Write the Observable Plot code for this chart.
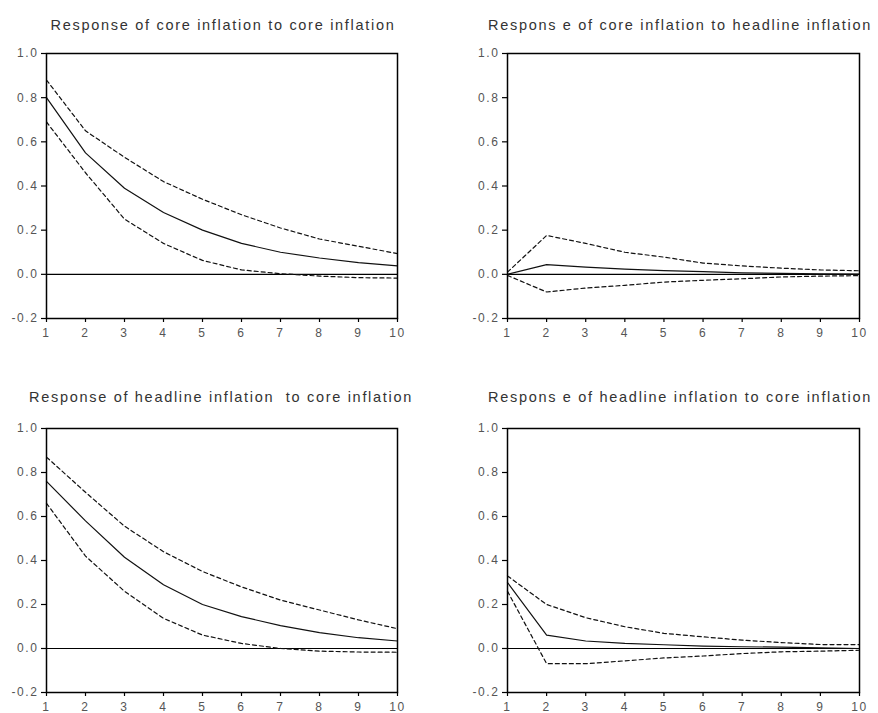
<!DOCTYPE html>
<html>
<head>
<meta charset="utf-8">
<script src="https://cdn.jsdelivr.net/npm/d3@7"></script>
<script src="https://cdn.jsdelivr.net/npm/@observablehq/plot@0.6"></script>
<style>
  html, body { margin: 0; padding: 0; background: #fff; }
  #wrap { position: relative; width: 878px; height: 713px; overflow: hidden; background: #fff; }
  .panel { position: absolute; }
  .ttl { position: absolute; font-family: "Liberation Sans", Arial, sans-serif; font-size: 14.5px; letter-spacing: 1.7px; color: #333; white-space: pre; transform: translate(-50%, -50%); }
  svg.panel text { letter-spacing: 1.6px; }
</style>
</head>
<body>
<div id="wrap"></div>
<script>
// periods (x axis)
const steps = [1, 2, 3, 4, 5, 6, 7, 8, 9, 10];
const xTicks = [1, 2, 3, 4, 5, 6, 7, 8, 9, 10];
const yTicks = [-0.2, 0.0, 0.2, 0.4, 0.6, 0.8, 1.0];

// Response of core inflation to core inflation
const ccResp  = [0.80, 0.55, 0.39, 0.28, 0.20, 0.14, 0.10, 0.074, 0.053, 0.038];
const ccUpper = [0.88, 0.65, 0.53, 0.42, 0.34, 0.27, 0.21, 0.16, 0.127, 0.094];
const ccLower = [0.69, 0.46, 0.25, 0.14, 0.063, 0.02, 0.003, -0.008, -0.015, -0.017];

// Response of core inflation to headline inflation
const chResp  = [0.0, 0.044, 0.033, 0.024, 0.017, 0.012, 0.007, 0.004, 0.002, 0.001];
const chUpper = [0.01, 0.176, 0.14, 0.10, 0.078, 0.051, 0.038, 0.028, 0.02, 0.016];
const chLower = [-0.005, -0.08, -0.062, -0.05, -0.035, -0.027, -0.02, -0.012, -0.008, -0.006];

// Response of headline inflation to core inflation (left)
const hcResp  = [0.76, 0.58, 0.415, 0.29, 0.20, 0.145, 0.104, 0.072, 0.049, 0.034];
const hcUpper = [0.87, 0.71, 0.556, 0.44, 0.35, 0.28, 0.22, 0.175, 0.13, 0.09];
const hcLower = [0.66, 0.42, 0.26, 0.137, 0.061, 0.023, 0.0, -0.012, -0.016, -0.017];

// Response of headline inflation to core inflation (right)
const hhResp  = [0.30, 0.061, 0.034, 0.023, 0.017, 0.011, 0.008, 0.006, 0.003, 0.0];
const hhUpper = [0.33, 0.20, 0.14, 0.099, 0.069, 0.053, 0.038, 0.027, 0.018, 0.018];
const hhLower = [0.26, -0.069, -0.069, -0.056, -0.043, -0.034, -0.023, -0.015, -0.012, -0.008];

const titles = [
  "Response of core inflation to core inflation",
  "Respons e of core inflation to headline inflation",
  "Response of headline inflation  to core inflation",
  "Respons e of headline inflation to core inflation"
];

const series = [
  [ccResp, ccUpper, ccLower],
  [chResp, chUpper, chLower],
  [hcResp, hcUpper, hcLower],
  [hhResp, hhUpper, hhLower]
];

// layout of each panel: svg box + margins, title centre
const layout = [
  {left: 0,   top: 0,   width: 440, height: 355, mL: 46, mR: 43, mT: 53, mB: 37, tx: 223, ty: 25},
  {left: 440, top: 0,   width: 438, height: 355, mL: 67, mR: 19, mT: 53, mB: 37, tx: 680, ty: 25},
  {left: 0,   top: 360, width: 440, height: 353, mL: 46, mR: 43, mT: 68, mB: 21, tx: 221, ty: 397},
  {left: 440, top: 360, width: 438, height: 353, mL: 67, mR: 19, mT: 68, mB: 21, tx: 680, ty: 397}
];

const wrap = document.getElementById("wrap");

series.forEach(([resp, up, lo], i) => {
  const L = layout[i];
  const rows = (arr) => steps.map((s, k) => ({step: s, value: arr[k]}));
  const chart = Plot.plot({
    width: L.width,
    height: L.height,
    marginLeft: L.mL,
    marginRight: L.mR,
    marginTop: L.mT,
    marginBottom: L.mB,
    style: {fontFamily: "'Liberation Sans', Arial, sans-serif", fontSize: "12px", color: "#555", background: "white", overflow: "visible"},
    x: {domain: [1, 10], label: null},
    y: {domain: [-0.2, 1.0], label: null},
    marks: [
      Plot.ruleY([0], {stroke: "#000", strokeWidth: 1.2}),
      Plot.line(rows(up), {x: "step", y: "value", stroke: "#111", strokeWidth: 1.2, strokeDasharray: "4,3"}),
      Plot.line(rows(lo), {x: "step", y: "value", stroke: "#111", strokeWidth: 1.2, strokeDasharray: "4,3"}),
      Plot.line(rows(resp), {x: "step", y: "value", stroke: "#111", strokeWidth: 1.2}),
      Plot.frame({stroke: "#000", strokeWidth: 1.5}),
      Plot.axisY({ticks: yTicks, tickFormat: d => d.toFixed(1), tickSize: 5, tickPadding: 3, fontSize: 12, stroke: "#000", strokeWidth: 1.2, fill: "#555", label: null}),
      Plot.axisX({ticks: xTicks, tickFormat: d => String(d), tickSize: 4, tickPadding: 6, fontSize: 12, stroke: "#000", strokeWidth: 1.2, fill: "#555", label: null})
    ]
  });
  chart.classList.add("panel");
  chart.style.left = L.left + "px";
  chart.style.top = L.top + "px";
  wrap.appendChild(chart);

  const t = document.createElement("div");
  t.className = "ttl";
  t.textContent = titles[i];
  t.style.left = L.tx + "px";
  t.style.top = L.ty + "px";
  wrap.appendChild(t);
});
</script>
</body>
</html>
